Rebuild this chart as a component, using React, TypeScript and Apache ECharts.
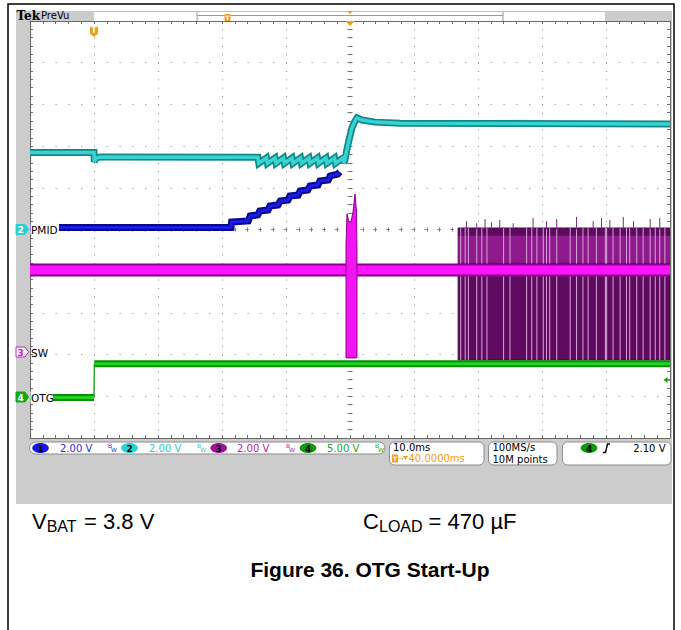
import React, { useEffect, useRef } from "react";
import * as echarts from "echarts";

// ---------------- scope settings ----------------
const timeMin = -10; // ms (trigger at 0, 10 ms/div, trigger position 40 ms)
const timeMax = 90;
const timePerDiv = 10;
const voltsPerDiv = [2.0, 2.0, 2.0, 5.0]; // ch1..ch4
const offsetDiv = [0, 0, -2.95, -4.03]; // ground level of each channel, in divisions from center
const triggerLevel = 2.1; // V on ch4

// ---------------- waveform data (time ms, volts) ----------------
const ch1Trace: [number, number][] = [
  [-10, 0.09], [21.4, 0.09], [21.5, 0.36], [24.1, 0.41], [24.4, 0.65], [25.6, 0.7],
  [25.9, 0.89], [27.2, 0.94], [27.5, 1.13], [28.75, 1.18], [29.1, 1.37], [30.3, 1.41],
  [30.6, 1.61], [31.9, 1.65], [32.2, 1.85], [33.4, 1.89], [33.75, 2.09], [35.0, 2.13],
  [35.3, 2.33], [36.6, 2.37], [36.9, 2.57], [38.1, 2.66], [38.4, 2.76],
];

const ch2Trace: [number, number][] = [
  [-10, 3.69], [0, 3.69], [0.05, 3.24], [0.3, 3.43], [1.0, 3.48], [25.6, 3.46],
  [25.75, 3.18], [26.95, 3.43], [27.1, 3.18], [28.28, 3.43], [28.43, 3.18], [29.6, 3.43],
  [29.75, 3.18], [30.94, 3.43], [31.09, 3.18], [32.27, 3.43], [32.42, 3.18], [33.59, 3.43],
  [33.74, 3.18], [34.92, 3.43], [35.07, 3.18], [36.25, 3.43], [36.4, 3.18], [37.58, 3.43],
  [37.73, 3.18], [38.9, 3.43], [39.05, 3.18], [39.2, 3.33], [39.5, 3.81], [39.84, 4.29],
  [40.3, 4.87], [40.78, 5.2], [41.1, 5.35], [41.9, 5.25], [43.9, 5.15], [47.8, 5.1], [90, 5.06],
];

const ch3Trace: [number, number][] = [[-10, 3.96], [90, 3.96]];

// [time, low V, high V]
const ch3BurstEnvelope: [number, number, number][] = [
  [39.375, -0.26, 5.16], [39.53, -0.26, 6.64], [39.84, -0.26, 6.26], [40.16, -0.26, 6.26],
  [40.47, -0.26, 6.74], [40.78, -0.26, 7.6], [41.02, -0.26, 6.74], [41.09, -0.26, 4.92],
];
const ch3SwitchEnvelope: [number, number, number][] = [[56.9, -0.36, 5.97], [90, -0.36, 5.97]];
const ch3SwitchHalo: [number, number, number][] = [[56.9, 4.3, 5.6], [90, 4.3, 5.6]];
const ch3SwitchStreaks = [
  57.3, 58.0, 58.5, 59.8, 60.6, 61.4, 64.0, 65.0, 67.6, 68.4, 69.2, 70.2, 70.7, 71.2, 72.3,
  74.4, 75.4, 76.4, 77.2, 78.5, 79.9, 80.1, 81.1, 82.2, 83.2, 83.7, 84.8, 85.8, 86.9, 87.7,
  88.4, 89.2,
];
const ch3SwitchSpikes: [number, number][] = [
  [58.2, 6.3], [59.8, 6.2], [61.1, 6.4], [62.1, 6.25], [63.4, 6.35], [65.5, 6.2], [68.6, 6.45],
  [70.7, 6.3], [72.3, 6.4], [75.4, 6.5], [78.0, 6.3], [79.3, 6.45], [80.6, 6.35], [82.7, 6.5],
  [84.3, 6.3], [86.9, 6.4], [88.4, 6.45],
];

const ch4LowTrace: [number, number][] = [[-10, 0], [0, 0]];
const ch4EdgeTrace: [number, number][] = [[0, 0], [0.05, 4.04]];
const ch4HighTrace: [number, number][] = [[0.05, 4.04], [90, 4.04]];

// ---------------- readout text ----------------
const channelScaleLabels = ["2.00 V", "2.00 V", "2.00 V", "5.00 V"];
const horizontalLabels = ["10.0ms", "40.0000ms"];
const acquisitionLabels = ["100MS/s", "10M points"];
const triggerLabel = "2.10 V";

// ---------------- helpers ----------------
const toDiv = (ch: number, v: number) => v / voltsPerDiv[ch] + offsetDiv[ch];
const mapTrace = (ch: number, tr: [number, number][]) => tr.map(([t, v]) => [t, toDiv(ch, v)]);
const triggerArrowY = 229.5 - toDiv(3, triggerLevel) * 41.7;

const COL = {
  c1: "#1c1ce0",
  c1d: "#08088c",
  c2: "#38d2d2",
  c2d: "#118888",
  c3: "#ff14ff",
  c3d: "#8a008a",
  c4: "#25d025",
  c4d: "#078f07",
  orange: "#f39c12",
};

const FONT = '"DejaVu Sans", sans-serif';
const ARIAL = '"Liberation Sans", Arial, sans-serif';

function txt(x: number, y: number, text: string, o: any = {}) {
  const align = o.align || "left";
  const va = o.va || "middle";
  return {
    type: "text",
    x,
    y,
    z: o.z ?? 60,
    silent: true,
    style: {
      text,
      fill: o.fill || "#000",
      fontSize: o.size || 10,
      fontFamily: o.family || FONT,
      fontWeight: o.weight || "normal",
      align,
      verticalAlign: va,
      textAlign: align,
      textVerticalAlign: va,
    },
  };
}

function lineSeries(data: any[], color: string, width: number, z: number) {
  return {
    type: "line",
    data,
    symbol: "none",
    silent: true,
    z,
    lineStyle: { color, width, cap: "butt", join: "miter" },
    xAxisIndex: 0,
    yAxisIndex: 0,
  };
}

function envelopeSeries(env: [number, number, number][], ch: number, fill: string, stroke: string, z: number) {
  return {
    type: "custom",
    coordinateSystem: "cartesian2d",
    xAxisIndex: 0,
    yAxisIndex: 0,
    silent: true,
    z,
    clip: true,
    data: [[env[0][0], 0]],
    renderItem: (_p: any, api: any) => {
      const upper = env.map(([t, , hi]) => api.coord([t, toDiv(ch, hi)]));
      const lower = env.map(([t, lo]) => api.coord([t, toDiv(ch, lo)])).reverse();
      return {
        type: "polygon",
        shape: { points: upper.concat(lower) },
        style: { fill, stroke, lineWidth: stroke === "none" ? 0 : 1 },
      };
    },
  };
}

function verticalMarks(ch: number, items: [number, number, number][], color: string, width: number, z: number) {
  return {
    type: "custom",
    coordinateSystem: "cartesian2d",
    xAxisIndex: 0,
    yAxisIndex: 0,
    silent: true,
    z,
    clip: true,
    data: items.map((d) => [d[0], 0, d[1], d[2]]),
    renderItem: (_p: any, api: any) => {
      const t = api.value(0);
      const a = api.coord([t, toDiv(ch, api.value(2))]);
      const b = api.coord([t, toDiv(ch, api.value(3))]);
      return {
        type: "line",
        shape: { x1: a[0], y1: a[1], x2: b[0], y2: b[1] },
        style: { stroke: color, lineWidth: width },
      };
    },
  };
}

function chanMarker(y: number, label: string, color: string, filled: boolean) {
  return [
    {
      type: "polygon",
      z: 60,
      silent: true,
      shape: { points: [[16, y - 5], [25, y - 5], [28.5, y], [25, y + 5], [16, y + 5]] },
      style: { fill: filled ? color : "#ffffff", stroke: color, lineWidth: 1 },
    },
    txt(20.5, y + 0.5, label, { fill: filled ? "#ffffff" : color, size: 9, weight: "bold", align: "center", z: 61 }),
  ];
}

function chanEllipse(cx: number, cy: number, label: string, color: string) {
  return [
    { type: "ellipse", z: 60, silent: true, shape: { cx, cy, rx: 8.3, ry: 5 }, style: { fill: color } },
    txt(cx, cy + 0.5, label, { fill: "#000", size: 9, weight: "bold", align: "center", z: 61 }),
  ];
}

function bw(x: number, color: string) {
  return [txt(x, 445.5, "B", { fill: color, size: 6, z: 61 }), txt(x + 3, 449.5, "W", { fill: color, size: 6, z: 61 })];
}

const edgeAxisBase = {
  type: "value",
  min: timeMin,
  max: timeMax,
  interval: timePerDiv,
  axisLabel: { show: false },
  axisLine: { show: true, onZero: false, lineStyle: { color: "#6a6a6a", width: 1 } },
  axisTick: { show: true, inside: true, length: 3, lineStyle: { color: "#6a6a6a" } },
  minorTick: { show: true, splitNumber: 5, length: 3, lineStyle: { color: "#6a6a6a" } },
  splitLine: { show: false },
};
const edgeYAxisBase = { ...edgeAxisBase, min: -5, max: 5, interval: 1 };

export default function App() {
  const ref = useRef<HTMLDivElement>(null);

  useEffect(() => {
    if (!ref.current) return;
    const chart = echarts.init(ref.current, undefined, { renderer: "svg" });

    const graphic: any[] = [
      // outer page frame
      { type: "rect", z: -20, silent: true, shape: { x: 8, y: 4, width: 666, height: 640 }, style: { fill: "#fff", stroke: "#000", lineWidth: 1.5 } },
      // scope screen background
      { type: "rect", z: -10, silent: true, shape: { x: 16, y: 11, width: 656, height: 493 }, style: { fill: "#cccccc" } },
      // top record-view bar
      { type: "rect", z: -9, silent: true, shape: { x: 94, y: 11, width: 511, height: 10 }, style: { fill: "#ffffff" } },
      { type: "line", z: -8, silent: true, shape: { x1: 94, y1: 11.5, x2: 605, y2: 11.5 }, style: { stroke: "#bdbdbd", lineWidth: 1 } },
      { type: "line", z: -8, silent: true, shape: { x1: 197, y1: 15.5, x2: 503, y2: 15.5 }, style: { stroke: "#5cc45c", lineWidth: 1.2 } },
      { type: "line", z: -8, silent: true, shape: { x1: 197, y1: 12, x2: 197, y2: 21 }, style: { stroke: "#999", lineWidth: 1 } },
      { type: "line", z: -8, silent: true, shape: { x1: 503, y1: 12, x2: 503, y2: 21 }, style: { stroke: "#999", lineWidth: 1 } },
      { type: "rect", z: 60, silent: true, shape: { x: 224.5, y: 14, width: 6, height: 7, r: 1 }, style: { fill: COL.orange } },
      txt(227.5, 17.8, "T", { fill: "#fff", size: 6, weight: "bold", align: "center", z: 61 }),
      { type: "polygon", z: 60, silent: true, shape: { points: [[347, 11], [353, 11], [350, 14]] }, style: { fill: COL.orange } },
      txt(16.5, 16, "Tek", { size: 12, weight: "bold", family: '"DejaVu Serif", serif', z: 61 }),
      txt(41, 15.5, "PreVu", { size: 10, z: 61 }),
      // trigger markers in graticule
      { type: "polygon", z: 60, silent: true, shape: { points: [[345.5, 21], [354.5, 21], [350, 26]] }, style: { fill: COL.orange } },
      { type: "rect", z: 60, silent: true, shape: { x: 90, y: 26, width: 8, height: 9, r: 2 }, style: { fill: COL.orange } },
      { type: "polygon", z: 60, silent: true, shape: { points: [[92, 35], [96, 35], [94, 37]] }, style: { fill: COL.orange } },
      txt(94, 30.8, "T", { fill: "#fff", size: 8, weight: "bold", align: "center", z: 61 }),
      // channel ground markers and labels
      ...chanMarker(229.5, "2", "#2ccfcf", true),
      { type: "rect", z: 58, silent: true, shape: { x: 30.5, y: 224, width: 28.5, height: 11 }, style: { fill: "#fff" } },
      txt(31, 230, "PMID", { size: 10.5, z: 61 }),
      ...chanMarker(352, "3", "#c020c0", false),
      txt(31, 352.5, "SW", { size: 10.5, z: 61 }),
      ...chanMarker(397, "4", "#12a812", true),
      { type: "rect", z: 58, silent: true, shape: { x: 30.5, y: 391.5, width: 22.5, height: 11 }, style: { fill: "#fff" } },
      txt(31, 397.5, "OTG", { size: 10.5, z: 61 }),
      // trigger level arrow (right edge)
      { type: "polygon", z: 60, silent: true, shape: { points: [[663.5, triggerArrowY], [667.5, triggerArrowY - 3], [667.5, triggerArrowY + 3]] }, style: { fill: "#12a812" } },
      { type: "line", z: 60, silent: true, shape: { x1: 667, y1: triggerArrowY, x2: 670, y2: triggerArrowY }, style: { stroke: "#12a812", lineWidth: 1.2 } },
      // readout boxes
      { type: "rect", z: 50, silent: true, shape: { x: 29.5, y: 442, width: 355.5, height: 12, r: 6 }, style: { fill: "#fff", stroke: "#8c8c8c", lineWidth: 1 } },
      ...chanEllipse(40.5, 448, "1", "#1818e6"),
      txt(60, 448.5, channelScaleLabels[0], { fill: "#2a2ae0" }),
      ...bw(108, "#2a2ae0"),
      ...chanEllipse(129.5, 448, "2", "#22d4d4"),
      txt(149, 448.5, channelScaleLabels[1], { fill: "#2ccccc" }),
      ...bw(197, "#2ccccc"),
      ...chanEllipse(218.7, 448, "3", "#a0129c"),
      txt(237, 448.5, channelScaleLabels[2], { fill: "#b01cb0" }),
      ...bw(286, "#b01cb0"),
      ...chanEllipse(308, 448, "4", "#0e9c0e"),
      txt(327, 448.5, channelScaleLabels[3], { fill: "#22a822" }),
      ...bw(375, "#22a822"),

      { type: "rect", z: 50, silent: true, shape: { x: 389.5, y: 442, width: 94.5, height: 23, r: 5 }, style: { fill: "#fff", stroke: "#8c8c8c", lineWidth: 1 } },
      txt(393, 447.5, horizontalLabels[0]),
      { type: "rect", z: 60, silent: true, shape: { x: 392, y: 454.5, width: 6, height: 8, r: 1 }, style: { fill: COL.orange } },
      txt(395, 458.8, "T", { fill: "#fff", size: 6, weight: "bold", align: "center", z: 61 }),
      txt(398, 458.5, "→", { fill: COL.orange, size: 7 }),
      { type: "polygon", z: 60, silent: true, shape: { points: [[403, 456], [408, 456], [405.5, 460]] }, style: { fill: COL.orange } },
      txt(408.5, 458.5, horizontalLabels[1], { fill: COL.orange }),

      { type: "rect", z: 50, silent: true, shape: { x: 488.5, y: 442, width: 68.5, height: 23, r: 5 }, style: { fill: "#fff", stroke: "#8c8c8c", lineWidth: 1 } },
      txt(492.5, 447.5, acquisitionLabels[0]),
      txt(492.5, 459, acquisitionLabels[1]),

      { type: "rect", z: 50, silent: true, shape: { x: 562.5, y: 442, width: 108.5, height: 23, r: 5 }, style: { fill: "#fff", stroke: "#8c8c8c", lineWidth: 1 } },
      ...chanEllipse(589, 448, "4", "#0e9c0e"),
      { type: "polyline", z: 60, silent: true, shape: { points: [[603, 452.5], [605.5, 452.5], [607.5, 444], [610, 444]] }, style: { stroke: "#000", lineWidth: 1.4, fill: "none" } },
      txt(665.5, 448.5, triggerLabel, { align: "right" }),

      // captions
      txt(32, 521.5, "V", { size: 22, family: ARIAL }),
      txt(46.7, 526.5, "BAT", { size: 16, family: ARIAL }),
      txt(84, 521.5, "= 3.8 V", { size: 22, family: ARIAL }),
      txt(363, 521.5, "C", { size: 22, family: ARIAL }),
      txt(379, 526.5, "LOAD", { size: 16, family: ARIAL }),
      txt(428.6, 521.5, "= 470 µF", { size: 22, family: ARIAL }),
      txt(370, 569.5, "Figure 36. OTG Start-Up", { size: 21, weight: "bold", family: ARIAL, align: "center" }),
    ];

    const option: any = {
      animation: false,
      backgroundColor: "transparent",
      grid: { left: 30, top: 21, width: 640, height: 417, show: true, backgroundColor: "#ffffff", borderWidth: 0, containLabel: false },
      xAxis: [
        {
          ...edgeAxisBase,
          position: "bottom",
          splitLine: { show: true, lineStyle: { color: "#8a8a8a", width: 1, type: [1, 7.34] } },
        },
        { ...edgeAxisBase, position: "top" },
        {
          ...edgeAxisBase,
          position: "bottom",
          offset: -208.5,
          axisLine: { show: true, onZero: false, lineStyle: { color: "#8a8a8a", width: 1, type: [3, 9.8], dashOffset: 1.5 } },
          axisTick: { show: true, inside: true, length: 2, lineStyle: { color: "#777" } },
          minorTick: { show: true, splitNumber: 5, length: 2, lineStyle: { color: "#777" } },
        },
        {
          ...edgeAxisBase,
          position: "bottom",
          offset: -208.5,
          axisLine: { show: false },
          axisTick: { show: true, inside: false, length: 2, lineStyle: { color: "#777" } },
          minorTick: { show: true, splitNumber: 5, length: 2, lineStyle: { color: "#777" } },
        },
      ],
      yAxis: [
        {
          ...edgeYAxisBase,
          position: "left",
          splitLine: { show: true, lineStyle: { color: "#8a8a8a", width: 1, type: [1, 11.8] } },
        },
        { ...edgeYAxisBase, position: "right" },
        {
          ...edgeYAxisBase,
          position: "left",
          offset: -320,
          axisLine: { show: false },
          axisTick: { show: true, inside: true, length: 2.5, lineStyle: { color: "#777" } },
          minorTick: { show: true, splitNumber: 5, length: 2.5, lineStyle: { color: "#777" } },
        },
        {
          ...edgeYAxisBase,
          position: "left",
          offset: -320,
          axisLine: { show: false },
          axisTick: { show: true, inside: false, length: 2.5, lineStyle: { color: "#777" } },
          minorTick: { show: true, splitNumber: 5, length: 2.5, lineStyle: { color: "#777" } },
        },
      ],
      series: [
        // ch1
        lineSeries(mapTrace(0, ch1Trace), COL.c1d, 7, 3),
        lineSeries(mapTrace(0, ch1Trace), COL.c1, 3, 3),
        // ch2
        lineSeries(mapTrace(1, ch2Trace), COL.c2d, 7, 4),
        lineSeries(mapTrace(1, ch2Trace), COL.c2, 3.5, 4),
        // ch3 switching region
        envelopeSeries(ch3SwitchEnvelope, 2, "#5e0a5e", "#4a064a", 5),
        envelopeSeries(ch3SwitchHalo, 2, "#8e1a8e", "none", 5),
        verticalMarks(2, ch3SwitchStreaks.map((t) => [t, -0.36, 5.97] as [number, number, number]), "#d8a4d8", 1, 6),
        verticalMarks(2, ch3SwitchSpikes.map(([t, v]) => [t, 5.9, v] as [number, number, number]), "#7a2a7a", 1, 6),
        lineSeries(mapTrace(2, ch3Trace), COL.c3d, 13, 7),
        lineSeries(mapTrace(2, ch3Trace), COL.c3, 9, 7),
        envelopeSeries(ch3BurstEnvelope, 2, "#f214f2", COL.c3d, 8),
        // ch4
        lineSeries(mapTrace(3, ch4EdgeTrace), COL.c4d, 1.2, 9),
        lineSeries(mapTrace(3, ch4LowTrace), COL.c4d, 7, 9),
        lineSeries(mapTrace(3, ch4LowTrace), COL.c4, 3, 9),
        lineSeries(mapTrace(3, ch4HighTrace), COL.c4d, 7, 9),
        lineSeries(mapTrace(3, ch4HighTrace), COL.c4, 3, 9),
      ],
      graphic,
    };

    chart.setOption(option);
    return () => chart.dispose();
  }, []);

  return <div ref={ref} style={{ position: "absolute", left: 0, top: 0, width: 681, height: 630 }} />;
}
